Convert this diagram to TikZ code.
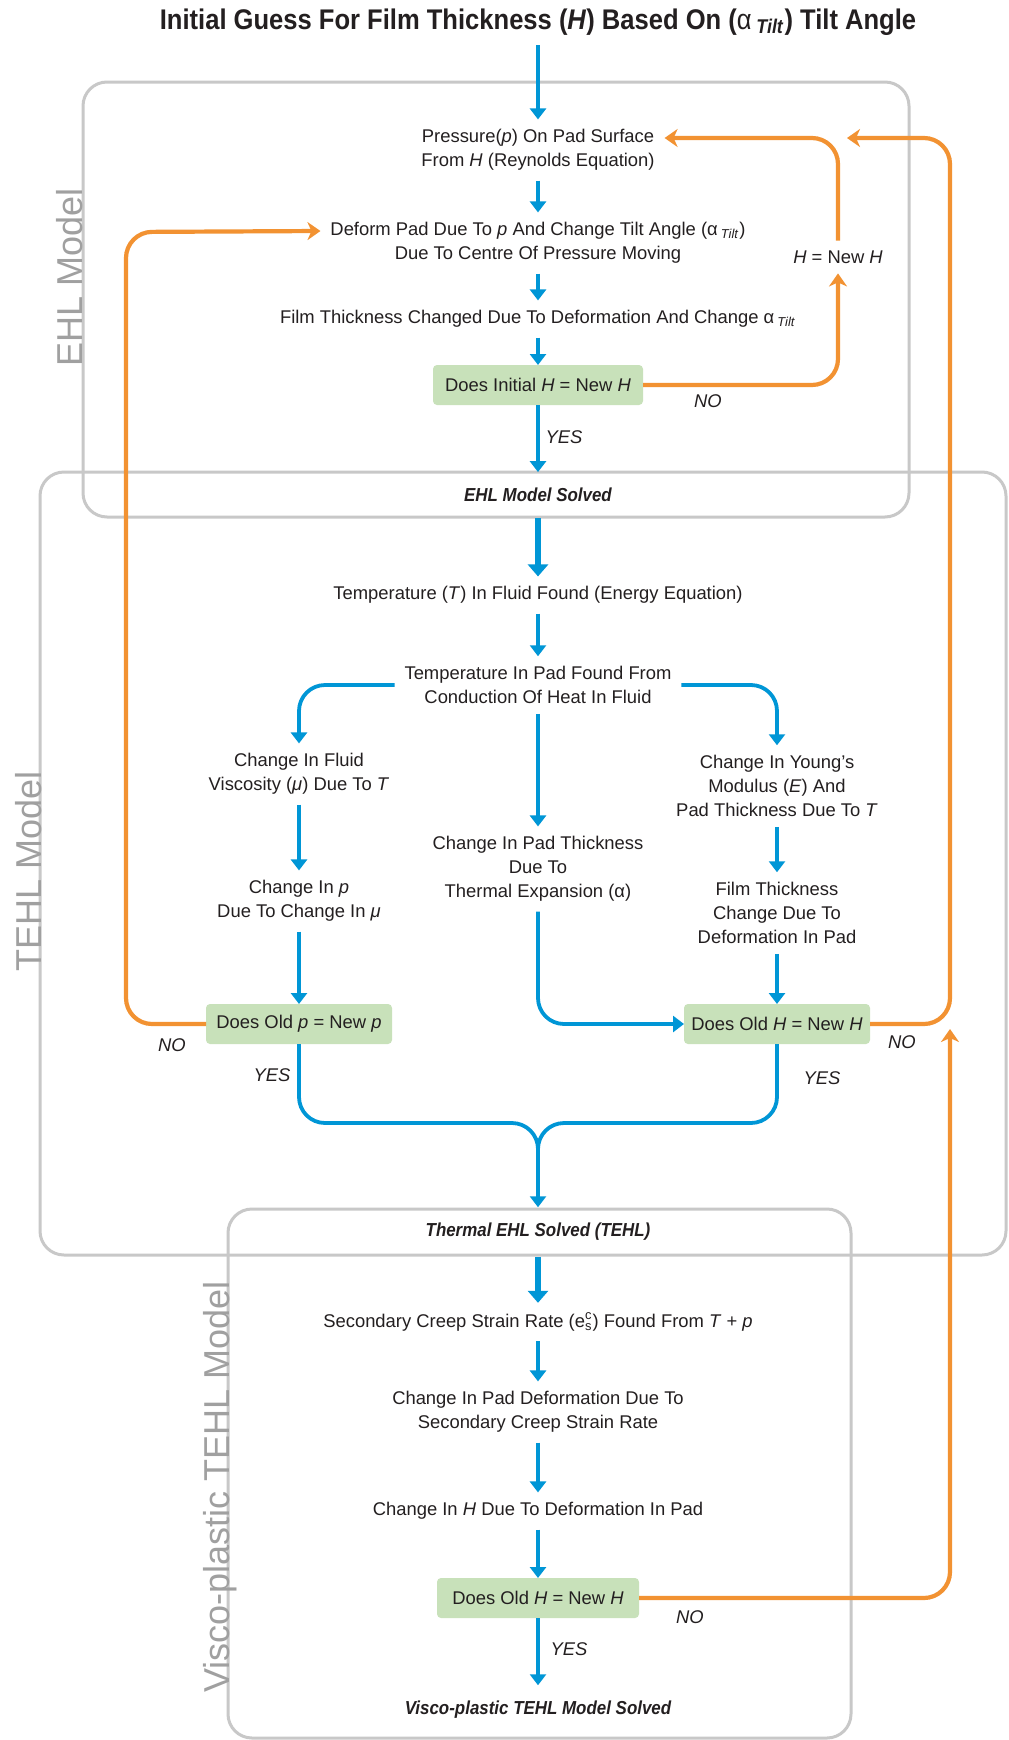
\documentclass[tikz,border=0pt]{standalone}
\usepackage{fontspec}
\setmainfont{Liberation Sans}
\newfontfamily\condfont[FakeStretch=0.9]{Liberation Sans}
\usetikzlibrary{arrows.meta}
\usepackage{xcolor}
\definecolor{fgColor}{HTML}{231f20}
\definecolor{flowColor}{RGB}{0,150,214}
\definecolor{retryColor}{RGB}{242,146,50}
\definecolor{checkColor}{RGB}{200,225,186}
\definecolor{zoneColor}{RGB}{200,200,200}
\definecolor{sideColor}{RGB}{160,160,160}

\tikzset{
  txt/.style={text=fgColor, align=center, inner sep=0pt, outer sep=5pt, font=\fontsize{9.2}{12}\selectfont},
  check/.style={txt, fill=checkColor, rounded corners=2pt, minimum height=20pt, minimum width=#1, outer sep=0pt},
  check/.default=93pt,
  solved/.style={txt, outer sep=8pt, font=\condfont\fontsize{9.4}{12}\selectfont\bfseries\itshape},
  answer/.style={txt, font=\fontsize{9.2}{12}\selectfont\itshape},
  side/.style={rotate=90, anchor=base, inner sep=0pt, text=sideColor, font=\fontsize{18}{18}\selectfont},
  zone/.style={zoneColor, line width=1.5pt, rounded corners=12pt},
  flow/.style={flowColor, line width=1.9pt, rounded corners=13pt, -{Triangle[length=5.5pt,width=8pt]}},
  bigflow/.style={flow, line width=3pt, -{Triangle[length=6pt,width=10pt]}},
  retry/.style={retryColor, line width=2.1pt, rounded corners=13pt, -{Stealth[length=6.5pt,width=9pt,inset=2pt]}},
}

\begin{document}
\begin{tikzpicture}[x=0.5pt,y=0.5pt,yscale=-1]
		\path[fill=white] (0,0) rectangle (1008,1740);
		\useasboundingbox (0,0) rectangle (1008,1740);

		% Model zones
		\draw [zone] (83,82)   rectangle (909,517);
		\draw [zone] (40,472)  rectangle (1006,1255);
		\draw [zone] (228,1209) rectangle (851,1738);

		\node [side] (ehlTag)   at (82,277)   {EHL Model};
		\node [side] (tehlTag)  at (41,871)   {TEHL Model};
		\node [side] (viscoTag) at (229,1487) {Visco-plastic TEHL Model};

		% EHL loop
		\node [txt, font=\condfont\fontsize{14.2}{16}\selectfont\bfseries] (title) at (538,22) {Initial Guess For Film Thickness (\textit{H}) Based On ({\mdseries α}\,\textsubscript{\textit{Tilt}}) Tilt Angle};
		\node [txt] (pres)    at (538,150) {Pressure(\textit{p}) On Pad Surface\\From \textit{H} (Reynolds Equation)};
		\node [txt] (deform)  at (538,243) {Deform Pad Due To \textit{p} And Change Tilt Angle (α\,\textsubscript{\textit{Tilt}})\\Due To Centre Of Pressure Moving};
		\node [txt] (filmA)   at (538,319) {Film Thickness Changed Due To Deformation And Change α\,\textsubscript{\textit{Tilt}}};
		\node [check=105pt] (chkInit) at (538,385) {Does Initial \textit{H} = New \textit{H}};
		\node [txt] (hNew)    at (838,257) {\textit{H} = New \textit{H}};
		\node [solved] (ehlSolved) at (538,495) {EHL Model Solved};

		% TEHL branches
		\node [txt] (tempFluid) at (538,595) {Temperature (\textit{T}) In Fluid Found (Energy Equation)};
		\node [txt] (tempPad)   at (538,685) {Temperature In Pad Found From\\Conduction Of Heat In Fluid};
		\node [txt] (visc)      at (299,774) {Change In Fluid\\Viscosity (\textit{μ}) Due To \textit{T}};
		\node [txt] (presChg)   at (299,901) {Change In \textit{p}\\Due To Change In \textit{μ}};
		\node [check] (chkP)    at (299,1024) {Does Old \textit{p} = New \textit{p}};
		\node [txt] (expand)    at (538,869) {Change In Pad Thickness\\Due To\\Thermal Expansion (α)};
		\node [txt] (young)     at (777,786) {Change In Young’s\\Modulus (\textit{E}) And\\Pad Thickness Due To \textit{T}};
		\node [txt] (filmB)     at (777,913) {Film Thickness\\Change Due To\\Deformation In Pad};
		\node [check] (chkH)    at (777,1024) {Does Old \textit{H} = New \textit{H}};
		\node [solved] (tehlSolved) at (538,1232) {Thermal EHL Solved (TEHL)};

		% Visco-plastic step
		\node [txt] (creep)  at (538,1322) {Secondary Creep Strain Rate ($\mathrm{e}^{\mathrm{c}}_{\mathrm{s}}$) Found From \textit{T} + \textit{p}};
		\node [txt] (padDef) at (538,1412) {Change In Pad Deformation Due To\\Secondary Creep Strain Rate};
		\node [txt] (hChg)   at (538,1511) {Change In \textit{H} Due To Deformation In Pad};
		\node [check=101pt] (chkV) at (538,1598) {Does Old \textit{H} = New \textit{H}};
		\node [solved] (viscoSolved) at (538,1710) {Visco-plastic TEHL Model Solved};

		% YES / NO
		\node [answer] (noInit)  at (708,401)  {NO};
		\node [answer] (yesInit) at (564,437)  {YES};
		\node [answer] (noP)     at (172,1045) {NO};
		\node [answer] (yesP)    at (272,1075) {YES};
		\node [answer] (noH)     at (902,1042) {NO};
		\node [answer] (yesH)    at (822,1078) {YES};
		\node [answer] (noV)     at (690,1617) {NO};
		\node [answer] (yesV)    at (569,1649) {YES};

		% Rails for the orange loops
		\coordinate (railL)   at (126,232);
		\coordinate (railR)   at (950,138);
		\coordinate (reenter) at (847,138);
		\coordinate (railIn)  at (950,1029);
		\coordinate (merge)    at (538,1123);
		\coordinate (mergeEnd) at (538,1165);

		% Blue flow
		\draw [flow] (title) -- (pres);
		\draw [flow] (pres) -- (deform);
		\draw [flow] (deform) -- (filmA);
		\draw [flow] (filmA) -- (chkInit);
		\draw [flow] (chkInit) -- (ehlSolved);
		\draw [bigflow] (ehlSolved) -- (tempFluid);
		\draw [flow] (tempFluid) -- (tempPad);
		\draw [flow] (tempPad.west) -| (visc.north);
		\draw [flow] (tempPad.east) -| (young.north);
		\draw [flow] (tempPad) -- (expand);
		\draw [flow] (visc) -- (presChg);
		\draw [flow] (presChg) -- (chkP);
		\draw [flow] (young) -- (filmB);
		\draw [flow] (filmB) -- (chkH);
		\draw [flow] (expand.south) |- (chkH.west);
		\draw [flowColor, line width=1.9pt, rounded corners=13pt] (chkP.south) |- (merge) -- (mergeEnd);
		\draw [flowColor, line width=1.9pt, rounded corners=13pt] (chkH.south) |- (merge) -- (mergeEnd);
		\draw [flow] (mergeEnd) -- (tehlSolved);
		\draw [bigflow] (tehlSolved) -- (creep);
		\draw [flow] (creep) -- (padDef);
		\draw [flow] (padDef) -- (hChg);
		\draw [flow] (hChg) -- (chkV);
		\draw [flow] (chkV) -- (viscoSolved);

		% Orange loops
		\draw [retry] (chkInit.east) -| (hNew.south);
		\draw [retry] (hNew.north) |- ([yshift=-6pt]pres.east);
		\draw [retry] (chkH.east) -| (railR) -- (reenter);
		\draw [retry] (chkP.west) -| (railL) -- ([yshift=-6pt]deform.west);
		\draw [retry] (chkV.east) -| (railIn);
	\end{tikzpicture}
\end{document}
